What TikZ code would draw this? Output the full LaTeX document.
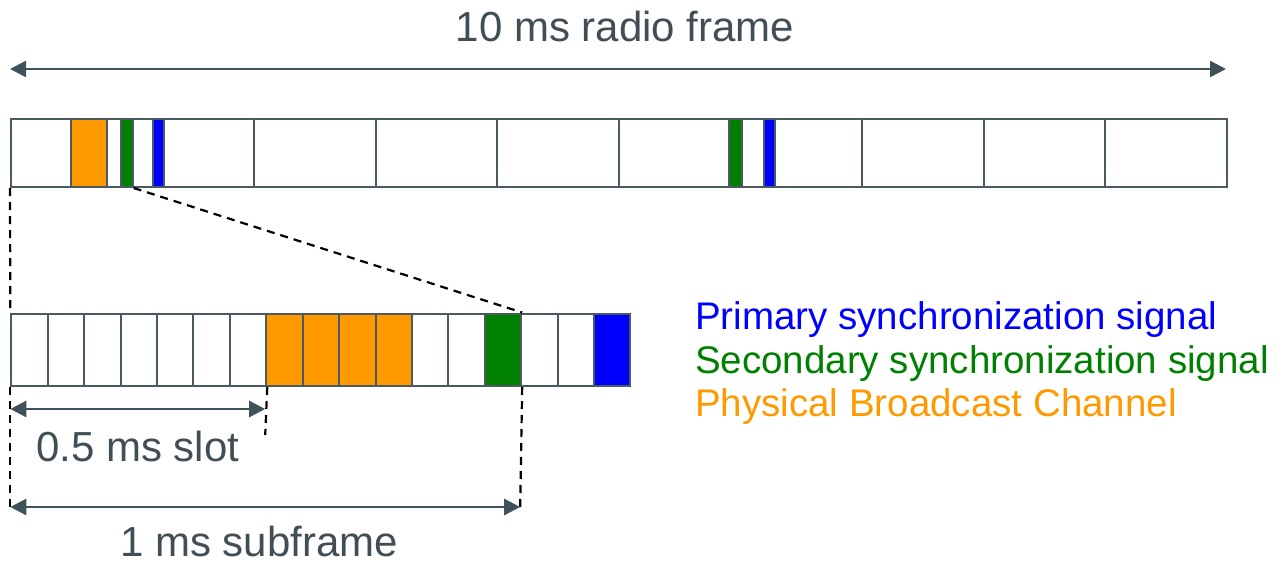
\documentclass[tikz,border=0pt]{standalone}
\usepackage{fontspec}
\setmainfont{Liberation Sans}
\usetikzlibrary{arrows.meta}
\definecolor{slate}{HTML}{3F5159}
\definecolor{boxline}{HTML}{4A5A61}
\definecolor{pss}{HTML}{0000FF}
\definecolor{sss}{HTML}{008000}
\definecolor{pbch}{HTML}{FF9900}
\definecolor{txt}{HTML}{414E55}
\begin{document}
\begin{tikzpicture}[x=1pt,y=-1pt,
  sfbox/.style={draw=boxline, line width=2pt, fill=white, inner sep=0pt, anchor=north west,
    minimum width=121.6pt, minimum height=68.5pt},
  markbox/.style={draw=boxline, line width=2pt, inner sep=0pt, anchor=north west, minimum height=68.5pt},
  cellbox/.style={draw=boxline, line width=2pt, inner sep=0pt, anchor=north west,
    minimum width=36.42pt, minimum height=72.5pt},
  dashline/.style={draw=black, line width=2.2pt, dash pattern=on 8pt off 6pt},
  arr/.style={draw=slate, line width=2.5pt, {Triangle[length=16pt,width=16pt]}-{Triangle[length=16pt,width=16pt]}},
  lbl/.style={text=txt, inner sep=0pt, font=\fontsize{42}{50}\selectfont},
  leg/.style={inner sep=0pt, anchor=base west, font=\fontsize{38.5}{46}\selectfont}]
\useasboundingbox (0,0) rectangle (1279,563);

% top: 10 ms radio frame of 10 subframes
\foreach \i in {0,...,9}
  \node[sfbox] (sf\i) at ({10+\i*121.6},117.5) {};
\node[markbox, fill=pbch, minimum width=36pt] (po) at (70,117.5) {};
\node[markbox, fill=sss, minimum width=12pt] (sg1) at (120.3,117.5) {};
\node[markbox, fill=pss, minimum width=11pt] (sb1) at (152.3,117.5) {};
\node[markbox, fill=sss, minimum width=12.5pt] (sg2) at (728,117.5) {};
\node[markbox, fill=pss, minimum width=11pt] (sb2) at (763.3,117.5) {};

% bottom: symbols of the first subframe
\foreach \j/\c in {0/white,1/white,2/white,3/white,4/white,5/white,6/white,
  7/pbch,8/pbch,9/pbch,10/pbch,11/white,12/white,13/sss,14/white,15/white,16/pss}
  \node[cellbox, fill=\c] (c\j) at ({10.3+\j*36.42},312.5) {};

% zoom lines
\draw[dashline] (sf0.south west) -- (c0.north west);
\draw[dashline] (sf0.south east) -- (c13.north east);
\coordinate (d0) at (10.3,512);
\coordinate (d1) at (265.2,435);
\coordinate (d2) at (520.2,507);
\draw[dashline] (c0.south west) -- (d0);
\draw[dashline] (c6.south east) -- (d1);
\draw[dashline] (c13.south east) -- (d2);

% dimension arrows
\coordinate (a0) at (10,69);
\coordinate (a1) at (1226,69);
\draw[arr] (a0) -- (a1);
\coordinate (b0) at (10.3,409);
\coordinate (b1) at (265.2,409);
\draw[arr] (b0) -- (b1);
\coordinate (e0) at (10.3,507);
\coordinate (e1) at (520.2,507);
\draw[arr] (e0) -- (e1);

% labels
\node[lbl, anchor=base] (tframe) at (625,41) {10 ms radio frame};
\node[lbl, anchor=base west] (tslot) at (36,461.7) {0.5 ms slot};
\node[lbl, anchor=base west, text depth=0pt] (tsub) at (120,556.5) {1 ms subframe};

% legend
\node[leg, text=pss] (lp) at (695,329) {Primary synchronization signal};
\node[leg, text=sss] (ls) at (695,373) {Secondary synchronization signal};
\node[leg, text=pbch] (lb) at (695,416) {Physical Broadcast Channel};
\end{tikzpicture}
\end{document}
